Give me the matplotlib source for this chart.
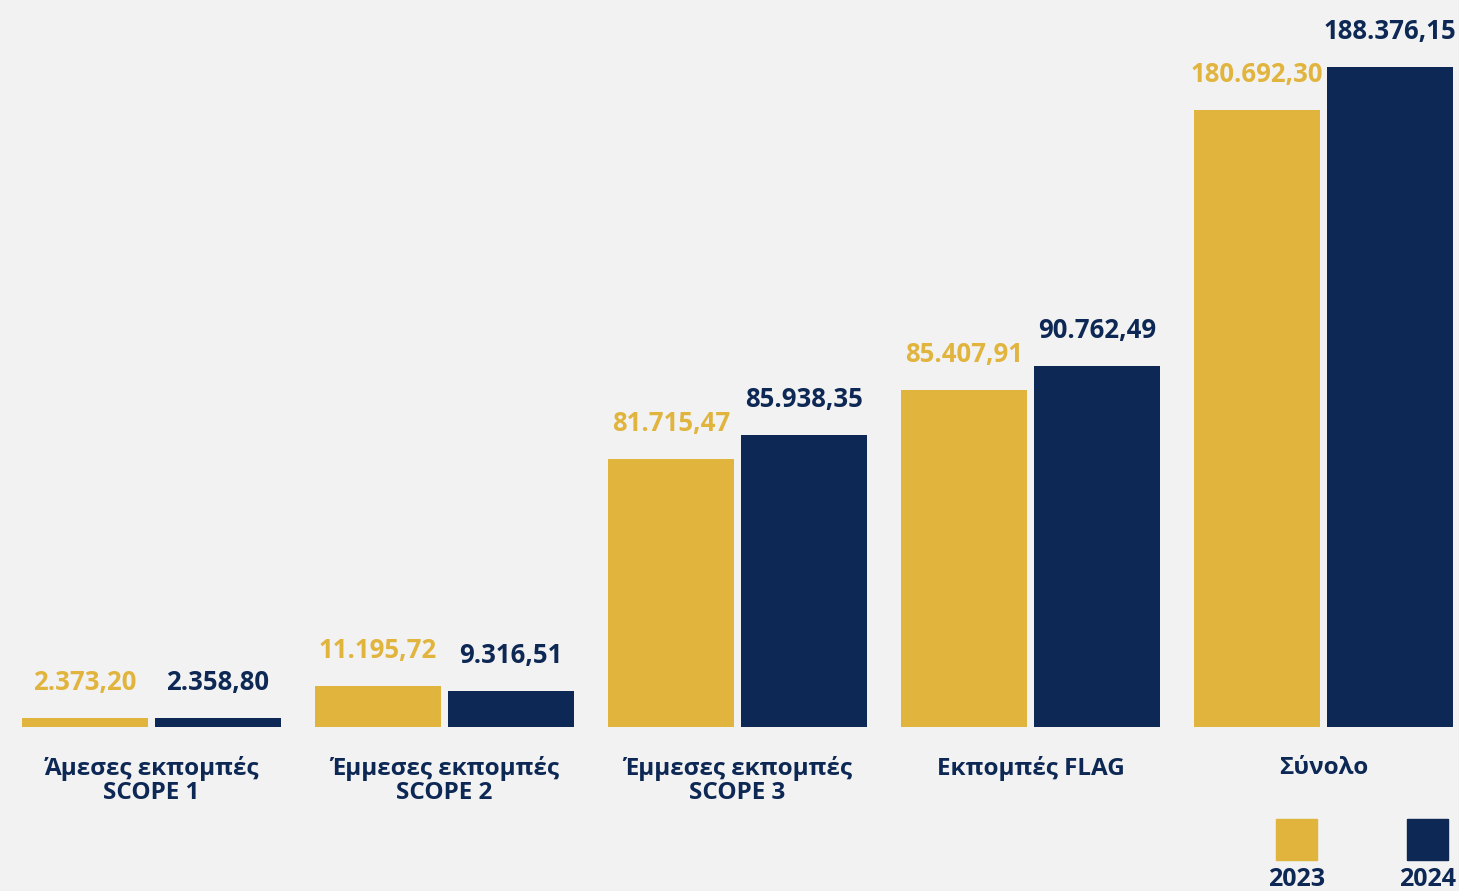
import matplotlib.pyplot as plt
import numpy as np
from matplotlib.patches import Rectangle

plt.rcParams['font.family'] = ['Open Sans', 'DejaVu Sans']

# Data
categories = ['Άμεσες εκπομπές\nSCOPE 1', 'Έμμεσες εκπομπές\nSCOPE 2', 'Έμμεσες εκπομπές\nSCOPE 3',
              'Εκπομπές FLAG', 'Σύνολο']
years = ['2023', '2024']
values_2023 = [2373.20, 11195.72, 81715.47, 85407.91, 180692.30]
values_2024 = [2358.80, 9316.51, 85938.35, 90762.49, 188376.15]
# the source chart's bars are not drawn to scale; heights
bar_height_2023 = [2570, 11700, 76480, 96180, 176080]
bar_height_2024 = [2570, 10270, 83330, 103030, 188360]

GOLD = '#E1B43E'
NAVY = '#0D2854'
BG = '#F2F2F2'


def fmt(v):
    # Greek number format: dot thousands, comma decimals
    s = f'{v:,.2f}'
    return s.replace(',', 'X').replace('.', ',').replace('X', '.')


W, H = 1459, 891
fig = plt.figure(figsize=(W / 100, H / 100), dpi=100, facecolor=BG)
base = 164 / H
ax = fig.add_axes([0, base, 1, 1 - base])
ax.set_facecolor(BG)

x = np.arange(len(categories))
width = 126 / 293
off = 133 / 2 / 293
b1 = ax.bar(x - off, bar_height_2023, width, color=GOLD)
b2 = ax.bar(x + off, bar_height_2024, width, color=NAVY)

ax.set_xlim(-151.5 / 293, (W - 151.5) / 293)
ax.set_ylim(0, 727 / 0.003504)
ax.axis('off')

for bars, vals, col in [(b1, values_2023, GOLD), (b2, values_2024, NAVY)]:
    for rect, v in zip(bars, vals):
        ax.annotate(fmt(v), (rect.get_x() + rect.get_width() / 2, rect.get_height()),
                    xytext=(0, 20), textcoords='offset points',
                    ha='center', va='baseline', fontsize=18.5, color=col,
                    fontweight='bold', annotation_clip=False)

for xi, cat in zip(x, categories):
    ax.annotate(cat, (xi, 0), xytext=(0, -21), textcoords='offset points',
                ha='center', va='top', fontsize=17.5, color=NAVY, fontweight='bold',
                linespacing=1.0, annotation_clip=False)

# Legend squares with year labels underneath
for cx, col, yr in [(1296.5, GOLD, years[0]), (1427.5, NAVY, years[1])]:
    fig.patches.append(Rectangle(((cx - 20.5) / W, (H - 860) / H), 41 / W, 41 / H,
                                 transform=fig.transFigure, color=col))
    fig.text(cx / W, (H - 886) / H, yr, ha='center', va='baseline',
             fontsize=18, color=NAVY, fontweight='bold')

plt.savefig('out.png', dpi=100, facecolor=BG)
